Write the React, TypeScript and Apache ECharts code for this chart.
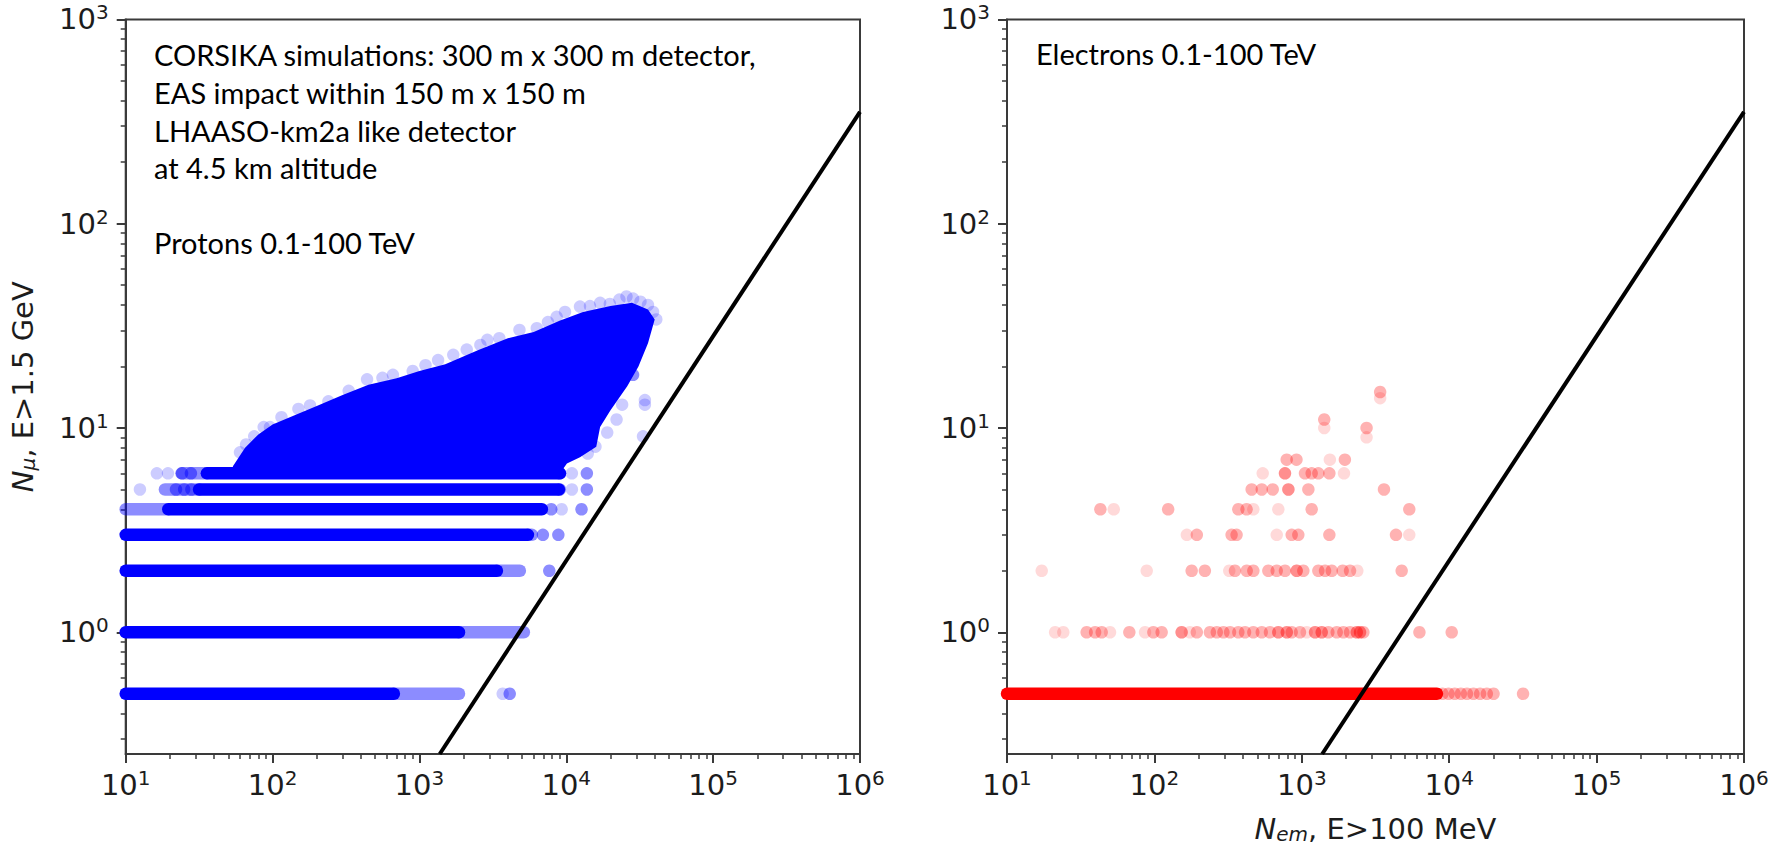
import React, { useEffect, useRef } from "react";
import * as echarts from "echarts";

// ---------- axes ----------
const X_RANGE = [10, 1000000];
const Y_RANGE = [0.2536, 1000];
const xMajorTicks = [10, 100, 1000, 10000, 100000, 1000000];
const yMajorTicks = [1, 10, 100, 1000];
const minorMultipliers = [2, 3, 4, 5, 6, 7, 8, 9];
const xMinorDecades = [10, 100, 1000, 10000, 100000];
const yMinorDecades = [0.1, 1, 10, 100];

// ---------- texts ----------
const leftNotes = [
  "CORSIKA simulations: 300 m x 300 m detector,",
  "EAS impact within 150 m x 150 m",
  "LHAASO-km2a like detector",
  "at 4.5 km altitude",
  "",
  "Protons 0.1-100 TeV",
];
const rightNote = "Electrons 0.1-100 TeV";
const yAxisTitle = "{i|N}{u|μ}{t|, E>1.5 GeV}";
const xAxisTitle = "{i|N}{u|em}{t|, E>100 MeV}";

// ---------- cut line (both panels) ----------
const cutLineX = [1375, 1000000];
const cutLineY = [0.2536, 353];

// ---------- protons (left) ----------
// dense cloud outline (N_em, N_mu)
const cloudX = [53.7, 53.7, 65, 80, 100, 140, 200, 300, 450, 700, 1000, 1500, 2500, 4000, 6000, 9000, 13000, 20000, 28000, 36000, 40000, 36000, 31000, 26000, 20000, 17000, 16000, 12400, 10100, 9060];
const cloudY = [6, 6.5, 8, 9.3, 10.4, 11.5, 12.8, 14.5, 16.3, 17.5, 19, 20.5, 24, 27.5, 29.5, 33.5, 37, 39.5, 41, 38, 34, 26, 20, 16, 12.2, 10.1, 8.1, 7.2, 6.7, 6];

// dense horizontal bands (integer muon counts; 0 shown at 0.5)
const blueBandY = [0.5, 1, 2, 3, 4, 5, 6];
const blueBandFrom = [10, 10, 10, 10, 19.5, 31.6, 35.7];
const blueBandTo = [670, 1860, 3370, 5480, 6820, 8910, 9060];
const blueFadeFrom = [670, 1860, 3370, 5480, 10, 18.5, 24];
const blueFadeTo = [1860, 5140, 4830, 5830, 19.5, 31.6, 35.7];

const blueLight = [
  [12.5, 5], [16.3, 6], [19.4, 6],
  [60, 7.6], [66, 8.3], [75, 9.1], [87, 10.1], [96, 10.1], [115, 11.3], [150, 12.4], [180, 12.9], [240, 13.5],
  [330, 15.2], [440, 17.3], [560, 17.6], [660, 18.2], [900, 19], [1100, 20.3], [1340, 21.5], [1700, 22.8],
  [2100, 24.2], [2600, 25.5], [2900, 27], [3500, 27.5], [4800, 30.2], [6300, 30.8], [7500, 33], [8600, 35],
  [9800, 37], [12400, 39.3], [14500, 39.5], [17000, 41], [19800, 40.5], [23000, 42.5], [25700, 44], [28500, 43],
  [32000, 41.5], [36000, 40], [39000, 37], [41000, 34],
  [10920, 6], [10920, 5], [9300, 4], [3690, 0.5],
  [34300, 13.7], [34300, 13], [33300, 9.1], [15800, 8.1], [19000, 9.5], [22000, 11], [14000, 7.5], [24000, 13],
];
const blueMedium = [
  [24.2, 6], [27.8, 6], [22, 5], [25, 5], [28, 5],
  [9040, 6], [13810, 6], [9040, 5], [13810, 5], [7900, 4], [12700, 4], [6930, 3], [8830, 3], [7660, 2],
  [4120, 0.5], [28500, 18.2],
];

// ---------- electrons (right) ----------
const redBandY = 0.5;
const redBandFrom = 10;
const redBandTo = 8260;
const redLight = [
  [3400, 14], [1420, 10], [2750, 9], [1550, 7], [543, 6], [1933, 6], [53, 4], [469, 4], [693, 4],
  [166, 3], [676, 3], [5360, 3], [17.2, 2], [88.7, 2], [322, 2], [2380, 2],
  [21.2, 1], [24.1, 1], [50, 1], [86.4, 1], [174, 1], [1080, 1],
];
const redMedium = [
  [3400, 15], [1420, 11], [2750, 10], [790, 7], [920, 7], [1960, 7],
  [769, 6], [1051, 6], [1167, 6], [1295, 6], [1538, 6],
  [457, 5], [535, 5], [635, 5], [811, 5], [1108, 5], [3610, 5],
  [43, 4], [124, 4], [371, 4], [422, 4], [1167, 4], [5360, 4],
  [194, 3], [334, 3], [361, 3], [854, 3], [947, 3], [1538, 3], [4355, 3],
  [179, 2], [220, 2], [352, 2], [423, 2], [469, 2], [593, 2], [676, 2], [769, 2], [923, 2], [1024, 2],
  [1295, 2], [1438, 2], [1596, 2], [1894, 2], [2124, 2], [4760, 2],
  [34.7, 1], [39.6, 1], [43.9, 1], [67.6, 1], [98.4, 1], [112, 1], [153, 1], [194, 1], [238, 1], [265, 1],
  [294, 1], [326, 1], [371, 1], [412, 1], [469, 1], [535, 1], [608, 1], [693, 1], [791, 1], [854, 1],
  [972, 1], [1230, 1], [1365, 1], [1514, 1], [1726, 1], [1915, 1], [2124, 1], [2360, 1], [2484, 1], [2617, 1],
  [6280, 1], [10400, 1],
  [9000, 0.5], [9900, 0.5], [10900, 0.5], [12000, 0.5], [13200, 0.5], [14600, 0.5], [16200, 0.5], [18000, 0.5],
  [20000, 0.5], [31700, 0.5],
];
const redExtra = [[923, 2], [811, 5], [153, 1], [693, 1], [791, 1], [1230, 1], [1365, 1], [2360, 1], [2484, 1], [769, 6]];

// ---------- styling ----------
const BLUE = "#0000ff";
const RED = "#ff0000";
const INK = "#1c1c1c";
const SPINE = "#3a3a3a";
const MARK = 12.5;
const FONT = "DejaVu Sans";

function minorValues(decades: number[], range: number[]) {
  const out: number[] = [];
  decades.forEach((d) => minorMultipliers.forEach((m) => {
    const v = d * m;
    if (v > range[0] && v < range[1]) out.push(v);
  }));
  return out;
}

function powLabel(v: number) {
  const e = Math.round(Math.log10(v));
  return "{b|10}{s|" + e + "}";
}

const labelRich = {
  b: { fontFamily: FONT, fontSize: 29, color: INK, lineHeight: 34 },
  s: { fontFamily: FONT, fontSize: 20, color: INK, lineHeight: 20, verticalAlign: "top" },
};
const nameRich = {
  i: { fontFamily: FONT, fontStyle: "italic", fontSize: 29, color: INK, lineHeight: 30 },
  u: { fontFamily: FONT, fontStyle: "italic", fontSize: 20, color: INK, lineHeight: 18, verticalAlign: "bottom" },
  t: { fontFamily: FONT, fontSize: 29, color: INK, lineHeight: 30 },
};

function majorAxis(dim: "x" | "y", gridIndex: number, name: string) {
  const range = dim === "x" ? X_RANGE : Y_RANGE;
  const ticks = dim === "x" ? xMajorTicks : yMajorTicks;
  return {
    type: "log",
    logBase: 10,
    gridIndex,
    min: range[0],
    max: range[1],
    position: dim === "x" ? "bottom" : "left",
    axisLine: { show: true, onZero: false, lineStyle: { color: SPINE, width: 2 } },
    axisTick: { show: true, customValues: ticks, length: 9, lineStyle: { color: SPINE, width: 2 } },
    axisLabel: {
      show: true,
      customValues: ticks,
      formatter: powLabel,
      margin: dim === "x" ? 14 : 17,
      rich: labelRich,
      showMinLabel: true,
      showMaxLabel: true,
    },
    splitLine: { show: false },
    minorTick: { show: false },
    name,
    nameLocation: "middle",
    nameGap: dim === "x" ? 60 : 88,
    nameRotate: dim === "x" ? 0 : 90,
    nameTextStyle: { rich: nameRich },
  };
}

function minorAxis(dim: "x" | "y", gridIndex: number) {
  const range = dim === "x" ? X_RANGE : Y_RANGE;
  const vals = dim === "x" ? minorValues(xMinorDecades, range) : minorValues(yMinorDecades, range);
  return {
    type: "log",
    logBase: 10,
    gridIndex,
    min: range[0],
    max: range[1],
    position: dim === "x" ? "bottom" : "left",
    axisLine: { show: false, onZero: false },
    axisTick: { show: true, customValues: vals, length: 5, lineStyle: { color: SPINE, width: 1.5 } },
    axisLabel: { show: false },
    splitLine: { show: false },
  };
}

function segment(x0: number, x1: number, y: number, color: string, opacity: number, xi: number, yi: number, z: number) {
  return {
    type: "line",
    xAxisIndex: xi,
    yAxisIndex: yi,
    data: [[x0, y], [x1, y]],
    symbol: "none",
    clip: true,
    silent: true,
    z,
    lineStyle: { color, width: MARK, opacity, cap: "round" },
  };
}

function scatter(data: number[][], color: string, opacity: number, xi: number, yi: number, z: number) {
  return {
    type: "scatter",
    xAxisIndex: xi,
    yAxisIndex: yi,
    data,
    symbol: "circle",
    symbolSize: MARK,
    clip: true,
    silent: true,
    z,
    itemStyle: { color, opacity },
  };
}

function cutLine(xi: number, yi: number) {
  return {
    type: "line",
    xAxisIndex: xi,
    yAxisIndex: yi,
    data: cutLineX.map((x, i) => [x, cutLineY[i]]),
    symbol: "none",
    clip: true,
    silent: true,
    z: 10,
    lineStyle: { color: "#000", width: 4 },
  };
}

const series: any[] = [
  // left panel
  {
    type: "custom",
    xAxisIndex: 0,
    yAxisIndex: 0,
    clip: true,
    silent: true,
    z: 2,
    data: [[cloudX[0], cloudY[0]]],
    renderItem: (params: any, api: any) => ({
      type: "polygon",
      shape: { points: cloudX.map((x, i) => api.coord([x, cloudY[i]])) },
      style: { fill: BLUE },
    }),
  },
  ...blueBandY.map((y, i) => segment(blueFadeFrom[i], blueFadeTo[i], y, BLUE, 0.45, 0, 0, 2)),
  ...blueBandY.map((y, i) => segment(blueBandFrom[i], blueBandTo[i], y, BLUE, 1, 0, 0, 3)),
  scatter(blueLight, BLUE, 0.2, 0, 0, 4),
  scatter(blueMedium, BLUE, 0.45, 0, 0, 4),
  cutLine(0, 0),
  // right panel
  segment(redBandFrom, redBandTo, redBandY, RED, 1, 2, 2, 3),
  scatter(redLight, RED, 0.15, 2, 2, 4),
  scatter(redMedium, RED, 0.3, 2, 2, 4),
  scatter(redExtra, RED, 0.2, 2, 2, 4),
  cutLine(2, 2),
];

const gridBase = {
  top: 19.4,
  height: 734.6,
  show: true,
  borderColor: SPINE,
  borderWidth: 2,
  backgroundColor: "transparent",
  containLabel: false,
  outerBoundsMode: "none",
};

const option: any = {
  animation: false,
  backgroundColor: "#ffffff",
  grid: [
    { ...gridBase, left: 125.7, width: 734.3 },
    { ...gridBase, left: 1007, width: 737 },
  ],
  xAxis: [majorAxis("x", 0, ""), minorAxis("x", 0), majorAxis("x", 1, xAxisTitle), minorAxis("x", 1)],
  yAxis: [majorAxis("y", 0, yAxisTitle), minorAxis("y", 0), majorAxis("y", 1, ""), minorAxis("y", 1)],
  series,
  graphic: [
    {
      type: "text",
      x: 154,
      y: 36,
      silent: true,
      style: {
        text: leftNotes.join("\n"),
        fontFamily: "Lato",
        fontSize: 29,
        lineHeight: 37.6,
        fill: "#000",
        verticalAlign: "top",
        textVerticalAlign: "top",
      },
    },
    {
      type: "text",
      x: 1036,
      y: 34.5,
      silent: true,
      style: {
        text: rightNote,
        fontFamily: "Lato",
        fontSize: 29,
        lineHeight: 37.6,
        fill: "#000",
        verticalAlign: "top",
        textVerticalAlign: "top",
      },
    },
  ],
};

export default function App() {
  const ref = useRef<HTMLDivElement>(null);
  useEffect(() => {
    if (!ref.current) return;
    const chart = echarts.init(ref.current, null, { renderer: "svg" });
    chart.setOption(option);
    return () => chart.dispose();
  }, []);
  return (
    <div
      ref={ref}
      style={{ position: "absolute", left: 0, top: 0, width: 1769, height: 847, background: "#fff" }}
    />
  );
}
